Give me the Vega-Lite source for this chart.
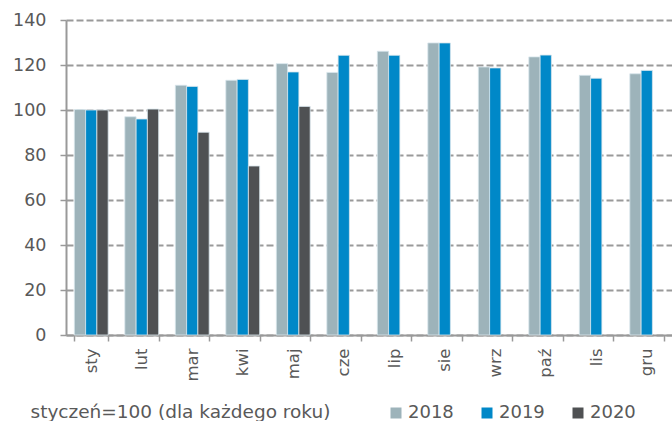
{
  "$schema": "https://vega.github.io/schema/vega-lite/v6.json",
  "width": 606,
  "height": 315,
  "autosize": {"type": "none"},
  "padding": {"left": 66, "top": 20, "right": 0, "bottom": 86},
  "background": "white",
  "config": {
    "view": {"stroke": null},
    "font": "DejaVu Sans"
  },
  "data": {
    "values": [
      {"m": "sty", "rok": "2018", "v": 100.2},
      {"m": "sty", "rok": "2019", "v": 100.0},
      {"m": "sty", "rok": "2020", "v": 100.0},
      {"m": "lut", "rok": "2018", "v": 97.0},
      {"m": "lut", "rok": "2019", "v": 96.0},
      {"m": "lut", "rok": "2020", "v": 100.4},
      {"m": "mar", "rok": "2018", "v": 111.0},
      {"m": "mar", "rok": "2019", "v": 110.5},
      {"m": "mar", "rok": "2020", "v": 90.1},
      {"m": "kwi", "rok": "2018", "v": 113.2},
      {"m": "kwi", "rok": "2019", "v": 113.6},
      {"m": "kwi", "rok": "2020", "v": 75.1},
      {"m": "maj", "rok": "2018", "v": 120.6},
      {"m": "maj", "rok": "2019", "v": 116.9},
      {"m": "maj", "rok": "2020", "v": 101.6},
      {"m": "cze", "rok": "2018", "v": 116.7},
      {"m": "cze", "rok": "2019", "v": 124.3},
      {"m": "lip", "rok": "2018", "v": 126.1},
      {"m": "lip", "rok": "2019", "v": 124.3},
      {"m": "sie", "rok": "2018", "v": 129.8},
      {"m": "sie", "rok": "2019", "v": 129.8},
      {"m": "wrz", "rok": "2018", "v": 119.1},
      {"m": "wrz", "rok": "2019", "v": 118.7},
      {"m": "paź", "rok": "2018", "v": 123.6},
      {"m": "paź", "rok": "2019", "v": 124.4},
      {"m": "lis", "rok": "2018", "v": 115.4},
      {"m": "lis", "rok": "2019", "v": 114.1},
      {"m": "gru", "rok": "2018", "v": 116.1},
      {"m": "gru", "rok": "2019", "v": 117.6}
    ]
  },
  "mark": {"type": "bar", "stroke": "#d8e6ec", "strokeWidth": 0.8},
  "encoding": {
    "x": {
      "field": "m",
      "type": "nominal",
      "sort": ["sty", "lut", "mar", "kwi", "maj", "cze", "lip", "sie", "wrz", "paź", "lis", "gru"],
      "scale": {"paddingInner": 0.33, "paddingOuter": 0.165},
      "axis": {
        "title": "styczeń=100 (dla każdego roku)",
        "titleX": -36,
        "titleY": 82,
        "titleAnchor": "start",
        "titleAlign": "left",
        "titleBaseline": "alphabetic",
        "titleFont": "DejaVu Sans",
        "titleFontSize": 18.5,
        "titleFontWeight": "normal",
        "titleColor": "#595959",
        "labelAngle": -90,
        "labelAlign": "right",
        "labelBaseline": "middle",
        "labelFont": "DejaVu Sans",
        "labelFontSize": 16.5,
        "labelColor": "#595959",
        "labelPadding": 7,
        "tickBand": "extent",
        "tickSize": 6,
        "tickColor": "#999999",
        "tickWidth": 1.5,
        "domainColor": "#999999",
        "domainWidth": 2,
        "grid": false
      }
    },
    "xOffset": {
      "field": "rok",
      "type": "nominal",
      "scale": {"domain": ["2018", "2019", "2020"], "paddingInner": 0, "paddingOuter": 0}
    },
    "y": {
      "field": "v",
      "type": "quantitative",
      "scale": {"domain": [0, 140], "nice": false},
      "axis": {
        "title": null,
        "values": [0, 20, 40, 60, 80, 100, 120, 140],
        "labelFont": "DejaVu Sans",
        "labelFontSize": 17.5,
        "labelColor": "#595959",
        "labelPadding": 14,
        "tickSize": 6,
        "tickColor": "#999999",
        "tickWidth": 1.5,
        "domainColor": "#999999",
        "domainWidth": 2,
        "grid": true,
        "gridColor": "#9a9a9a",
        "gridWidth": 2,
        "gridDash": [7, 3]
      }
    },
    "color": {
      "field": "rok",
      "type": "nominal",
      "scale": {"domain": ["2018", "2019", "2020"], "range": ["#9db3ba", "#0088c8", "#4f5153"]},
      "legend": {
        "title": null,
        "orient": "none",
        "direction": "horizontal",
        "legendX": 321,
        "legendY": 384,
        "symbolType": "square",
        "symbolSize": 121,
        "symbolStrokeWidth": 0,
        "labelFont": "DejaVu Sans",
        "labelFontSize": 18,
        "labelColor": "#595959",
        "labelOffset": 3,
        "columnPadding": 24
      }
    }
  }
}
